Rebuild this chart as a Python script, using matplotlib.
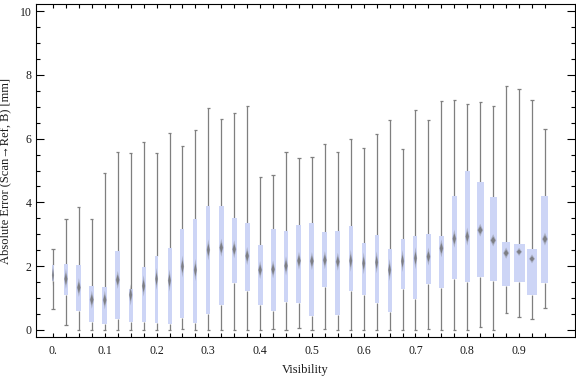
import matplotlib
matplotlib.use("Agg")
import matplotlib.pyplot as plt
from matplotlib.patches import Rectangle, Polygon
from matplotlib.ticker import MultipleLocator, FixedLocator, FixedFormatter
import numpy as np

# ---- data ----
visibility = [0.0, 0.025, 0.05, 0.075, 0.1, 0.125, 0.15, 0.175, 0.2, 0.225,
              0.25, 0.275, 0.3, 0.325, 0.35, 0.375, 0.4, 0.425, 0.45, 0.475,
              0.5, 0.525, 0.55, 0.575, 0.6, 0.625, 0.65, 0.675, 0.7, 0.725,
              0.75, 0.775, 0.8, 0.825, 0.85, 0.875, 0.9, 0.925, 0.95]
whisker_low = [0.65, 0.15, 0.0, 0.0, 0.0, 0.0, 0.0, 0.0, 0.0, 0.0,
               0.03, 0.0, 0.0, 0.0, 0.0, 0.0, 0.0, 0.03, 0.0, 0.05,
               0.0, 0.02, 0.0, 0.0, 0.0, 0.0, 0.0, 0.0, 0.0, 0.02,
               0.0, 0.0, 0.0, 0.08, 0.0, 0.52, 0.40, 0.33, 0.68]
q1 = [1.55, 1.11, 0.61, 0.26, 0.20, 0.35, 0.26, 0.24, 0.23, 0.20,
      0.39, 0.23, 0.51, 0.79, 1.48, 1.23, 0.78, 0.61, 0.89, 0.86,
      0.44, 1.36, 0.48, 1.23, 1.11, 0.86, 0.57, 1.30, 0.98, 1.45,
      1.33, 1.61, 1.52, 1.67, 1.54, 1.39, 1.52, 1.11, 1.48]
median = [1.72, 1.60, 1.33, 0.95, 0.94, 1.57, 1.10, 1.38, 1.60, 1.55,
          1.99, 1.88, 2.51, 2.58, 2.53, 2.32, 1.88, 1.90, 2.01, 2.17,
          2.16, 2.19, 2.14, 2.17, 2.09, 2.12, 1.88, 2.16, 2.25, 2.30,
          2.56, 2.86, 2.93, 3.13, 2.81, 2.41, 2.45, 2.23, 2.85]
q3 = [2.04, 2.06, 2.03, 1.37, 1.34, 2.47, 1.27, 1.96, 2.31, 2.56,
      3.16, 3.47, 3.89, 3.89, 3.51, 3.34, 2.66, 3.17, 3.10, 3.29,
      3.35, 3.07, 3.09, 3.26, 2.73, 2.98, 2.54, 2.84, 2.95, 3.01,
      2.95, 4.20, 4.98, 4.63, 4.17, 2.76, 2.70, 2.54, 4.20]
whisker_high = [2.53, 3.47, 3.85, 3.47, 4.93, 5.57, 5.54, 5.88, 5.54, 6.17,
                5.76, 6.26, 6.95, 6.60, 6.79, 7.01, 4.79, 4.85, 5.58, 5.38,
                5.41, 5.82, 5.58, 5.98, 5.69, 6.13, 6.57, 5.66, 6.89, 6.57,
                7.17, 7.20, 7.09, 7.14, 7.01, 7.66, 7.54, 7.20, 6.29]
x_tick_values = [0.0, 0.1, 0.2, 0.3, 0.4, 0.5, 0.6, 0.7, 0.8, 0.9]
x_tick_labels = ["0.", "0.1", "0.2", "0.3", "0.4", "0.5", "0.6", "0.7", "0.8", "0.9"]
y_tick_values = [0, 2, 4, 6, 8, 10]
x_label = "Visibility"
y_label = "Absolute Error (Scan\u2192Ref, B) [mm]"

# ---- style ----
box_width_px = [2.7, 4.5, 4.8, 5, 4.8, 5, 4.2, 4.2, 3.6, 4, 4, 4, 4.3, 5, 5, 5,
                5, 5, 4.7, 5, 5, 5, 5, 4, 4, 4, 4, 4, 4, 5, 5, 5,
                5, 7, 7.3, 8, 11, 10, 7]
box_color = "#cdd5f6"
whisker_color = "#7f7f7f"
text_color = "#1a1a1a"

W, H, DPI = 576, 377, 100
fig = plt.figure(figsize=(W / DPI, H / DPI), dpi=DPI)
left, right, top, bottom = 36, 575, 4, 337
ax = fig.add_axes([left / W, 1 - bottom / H, (right - left) / W, (bottom - top) / H])
xlim = (-0.0328, 1.008)
ylim = (-0.22, 10.22)
ax.set_xlim(*xlim)
ax.set_ylim(*ylim)

px_x = (xlim[1] - xlim[0]) / (right - left)   # data units per pixel
px_y = (ylim[1] - ylim[0]) / (bottom - top)

cap_half = 1.6 * px_x
for i, x in enumerate(visibility):
    # whiskers
    ax.plot([x, x], [whisker_low[i], q1[i]], color=whisker_color, lw=0.9, zorder=1,
            solid_capstyle="butt")
    ax.plot([x, x], [q3[i], whisker_high[i]], color=whisker_color, lw=0.9, zorder=1,
            solid_capstyle="butt")
    for yv in (whisker_low[i], whisker_high[i]):
        ax.plot([x - cap_half, x + cap_half], [yv, yv], color=whisker_color, lw=0.9,
                zorder=1, solid_capstyle="butt")
    # box
    bw = box_width_px[i] * px_x
    ax.add_patch(Rectangle((x - bw / 2, q1[i]), bw, q3[i] - q1[i],
                           facecolor=box_color, edgecolor="none", zorder=2))
    # median diamond (blurred look)
    hw_px = min(0.32 * box_width_px[i], 2.3)
    hh_px = min(45.0 / box_width_px[i], 11)
    for scale, alpha in ((1.0, 0.35), (0.6, 0.75)):
        hw = hw_px * px_x * (1.3 if scale == 1.0 else 1.0)
        hh = hh_px * px_y * scale
        m = median[i]
        ax.add_patch(Polygon([(x - hw, m), (x, m + hh), (x + hw, m), (x, m - hh)],
                             closed=True, facecolor="#6e6e6e", edgecolor="none",
                             alpha=alpha, zorder=3))

# ticks
ax.xaxis.set_major_locator(FixedLocator(x_tick_values))
ax.xaxis.set_major_formatter(FixedFormatter(x_tick_labels))
ax.xaxis.set_minor_locator(FixedLocator(visibility))
ax.yaxis.set_major_locator(FixedLocator(y_tick_values))
ax.yaxis.set_minor_locator(MultipleLocator(0.5))
ax.tick_params(which="both", direction="in", top=True, right=True, colors="black",
               labelcolor=text_color, labelsize=8.5, width=0.8)
ax.tick_params(axis="x", which="major", length=3, pad=6)
ax.tick_params(axis="x", which="minor", length=3)
ax.tick_params(axis="y", which="major", length=5.5, pad=3)
ax.tick_params(axis="y", which="minor", length=3)
for lab in ax.get_xticklabels() + ax.get_yticklabels():
    lab.set_fontfamily("Liberation Serif")
for sp in ax.spines.values():
    sp.set_linewidth(0.8)
    sp.set_color("black")

ax.set_xlabel(x_label, fontfamily="Liberation Serif", fontsize=9, color=text_color,
              labelpad=5)
ax.set_ylabel(y_label, fontfamily=["Liberation Serif", "DejaVu Sans"], fontsize=9,
              color=text_color, labelpad=6)

fig.savefig("out.png", dpi=DPI)
